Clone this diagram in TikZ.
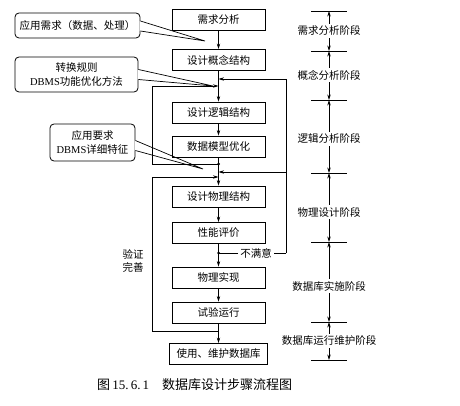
\documentclass[tikz,border=0pt]{standalone}
\usepackage{fontspec}
\setmainfont{Noto Sans CJK SC}
\newfontfamily\latinf{Liberation Serif}
\usetikzlibrary{arrows.meta,calc}
\begin{document}
\begin{tikzpicture}[x=1pt,y=-1pt,
  box/.style={draw,line width=0.9pt,minimum width=93pt,minimum height=21pt,inner sep=0pt,font=\fontsize{10.5}{12}\selectfont},
  callout/.style={draw,line width=0.8pt,rounded corners=4pt,inner sep=0pt,align=center,font=\fontsize{10.5}{14}\selectfont},
  lbl/.style={inner sep=2pt,font=\fontsize{10.5}{12}\selectfont},
  ln/.style={line width=0.7pt},
  arr/.style={ln,-{Stealth[length=5.5pt,width=3.4pt]}},
  jdot/.style={circle,fill,inner sep=0pt,minimum size=3pt}
]
\useasboundingbox (0,0) rectangle (460,406);

% callouts
\node[callout,minimum width=125pt,minimum height=25pt] (c1) at (77.5,25.5) {应用需求（数据、处理）};
\node[callout,minimum width=123pt,minimum height=35pt] (c2) at (76.5,74.5) {转换规则\\{\latinf DBMS}功能优化方法};
\node[callout,minimum width=85pt,minimum height=37pt] (c3) at (92.5,142.5) {应用要求\\{\latinf DBMS}详细特征};
\coordinate (p1) at (205,41);
\coordinate (p2) at (213,86);
\coordinate (p3) at (203,169);
\fill[white] ($(c1.east)+(-0.7,-4.5)$) -- (p1) -- ($(c1.east)+(-0.7,5.5)$) -- cycle;
\draw[ln] ($(c1.east)+(0,-4.5)$) -- (p1) -- ($(c1.east)+(0,5.5)$);
\fill[white] ($(c2.east)+(-0.7,-5)$) -- (p2) -- ($(c2.east)+(-0.7,5)$) -- cycle;
\draw[ln] ($(c2.east)+(0,-5)$) -- (p2) -- ($(c2.east)+(0,5)$);
\fill[white] ($(c3.east)+(-0.7,-2)$) -- (p3) -- ($(c3.east)+(-0.7,8)$) -- cycle;
\draw[ln] ($(c3.east)+(0,-2)$) -- (p3) -- ($(c3.east)+(0,8)$);

% main boxes
\node[box] (b1) at (218.5,19.5) {需求分析};
\node[box] (b2) at (218.5,60) {设计概念结构};
\node[box] (b3) at (218.5,112.5) {设计逻辑结构};
\node[box] (b4) at (218.5,146.5) {数据模型优化};
\node[box] (b5) at (218.5,196.5) {设计物理结构};
\node[box] (b6) at (218.5,233) {性能评价};
\node[box] (b7) at (218.5,277.5) {物理实现};
\node[box] (b8) at (218.5,312.5) {试验运行};
\node[box,minimum width=98pt] (b9) at (218.5,354) {使用、维护数据库};

\draw[arr] (b1.south) -- (b2.north);
\draw[arr] (b2.south) -- (b3.north);
\draw[arr] (b3.south) -- (b4.north);
\draw[arr] (b4.south) -- (b5.north);
\draw[arr] (b5.south) -- (b6.north);
\draw[arr] (b6.south) -- (b7.north);
\draw[arr] (b7.south) -- (b8.north);
\draw[arr] (b8.south) -- (b9.north);

% junctions
\node[jdot] (j1) at (218.5,164) {};
\node[jdot] (j2) at (218.5,253) {};
\coordinate (j3) at (218.5,331);
\coordinate (c79) at (218.5,79);
\coordinate (c86) at (218.5,86);
\coordinate (c172) at (218.5,172);
\coordinate (c177) at (218.5,177);
\coordinate (l1a) at (152,164);
\coordinate (l1b) at (152,86);
\coordinate (l2a) at (152,331);
\coordinate (l2b) at (152,177);
\coordinate (r1) at (286,79);
\coordinate (r2) at (286,172);
\coordinate (r3) at (286,253);

\draw[arr] (j1.center) -- (l1a) -- (l1b) -- (c86);
\draw[arr] (j3) -- (l2a) -- (l2b) -- (c177);
\draw[ln] (r3) -- (r1);
\draw[arr] (r1) -- (c79);
\draw[arr] (r2) -- (c172);
\node[lbl] (nm) at (256,253) {不满意};
\draw[ln] (r3) -- (nm.east);
\draw[ln] (nm.west) -- (j2.center);
\node[lbl,align=center,font=\fontsize{10.5}{13}\selectfont] (yz) at (133,261) {验证\\完善};

% stage column
\coordinate (t1) at (329,11);
\coordinate (t2) at (329,51);
\coordinate (t3) at (329,100);
\coordinate (t4) at (329,173);
\coordinate (t5) at (329,242);
\coordinate (t6) at (329,322);
\coordinate (t7) at (329,360);
\foreach \t in {t1,t2,t3,t4,t5,t6,t7}{
  \draw[ln] ($(\t)+(-18,0)$) -- ($(\t)+(18,0)$);
}
\node[lbl] (s1) at (329,31) {需求分析阶段};
\node[lbl] (s2) at (329,75) {概念分析阶段};
\node[lbl] (s3) at (329,139) {逻辑分析阶段};
\node[lbl] (s4) at (329,212) {物理设计阶段};
\node[lbl] (s5) at (329,286) {数据库实施阶段};
\node[lbl] (s6) at (329,341) {数据库运行维护阶段};
\draw[arr] (s1.north) -- (t1); \draw[arr] (s1.south) -- (t2);
\draw[arr] (s2.north) -- (t2); \draw[arr] (s2.south) -- (t3);
\draw[arr] (s3.north) -- (t3); \draw[arr] (s3.south) -- (t4);
\draw[arr] (s4.north) -- (t4); \draw[arr] (s4.south) -- (t5);
\draw[arr] (s5.north) -- (t5); \draw[arr] (s5.south) -- (t6);
\draw[arr] (s6.north) -- (t6); \draw[arr] (s6.south) -- (t7);

% caption
\node[inner sep=0pt,anchor=west,font=\fontsize{13}{15}\selectfont] (cap) at (97,385) {图\,{\latinf 15.\,6.\,1}\hspace{13pt}数据库设计步骤流程图};
\end{tikzpicture}
\end{document}
